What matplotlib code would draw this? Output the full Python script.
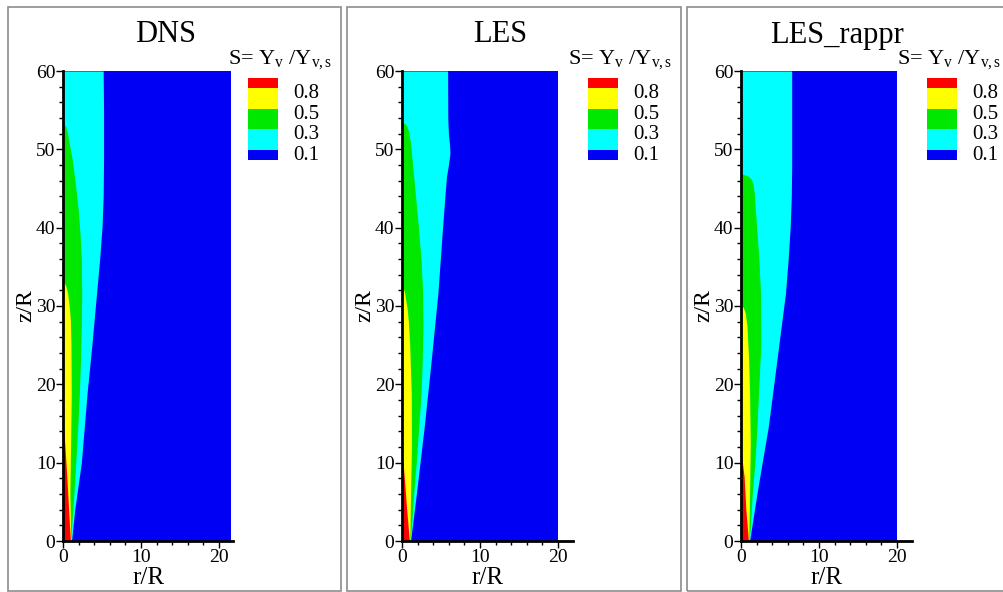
import matplotlib
matplotlib.use("Agg")
import matplotlib.pyplot as plt
import matplotlib.transforms as mtrans
from matplotlib.colors import ListedColormap, BoundaryNorm
from matplotlib.cm import ScalarMappable
from matplotlib.patches import Rectangle
from matplotlib.ticker import MultipleLocator

plt.rcParams["font.family"] = ["Liberation Serif", "DejaVu Serif"]
plt.rcParams["mathtext.fontset"] = "custom"
plt.rcParams["mathtext.rm"] = "Liberation Serif"
plt.rcParams["mathtext.it"] = "Liberation Serif:italic"

# saturation levels S = Yv / Yv,s
levels = [0.1, 0.3, 0.5, 0.8]
level_labels = ["0.1", "0.3", "0.5", "0.8"]
c_blue, c_cyan, c_green, c_yellow, c_red = "#0000f5", "#00ffff", "#00e800", "#ffff00", "#ff0000"

titles = ["DNS", "LES", "LES_rappr"]
r_domain = [21.6, 20.0, 20.0]      # radial extent of the computed field
x_max = [21.8, 21.9, 21.9]

# iso-lines r(z) for S = 0.1, 0.3, 0.5, 0.8  (z/R, r/R)
dns_z01 = [0, 4, 10, 19, 25, 31.6, 36, 40, 44, 48.6, 55, 60]
dns_r01 = [1.1, 1.5, 2.35, 3.1, 3.7, 4.3, 4.7, 5.0, 5.15, 5.2, 5.2, 5.15]
dns_z03 = [0, 1.8, 6.1, 10.3, 14.6, 18.9, 23.1, 27.4, 31.6, 35.9, 39, 42.3, 45.5,
           48.6, 50.8, 52.2, 52.9, 53.5]
dns_r03 = [1.0, 1.1, 1.4, 1.65, 1.9, 2.1, 2.25, 2.35, 2.4, 2.35, 2.2, 1.95, 1.6,
           1.2, 0.8, 0.55, 0.35, 0]
dns_z05 = [0, 6.1, 12.5, 18.9, 25.2, 28, 29.5, 31.6, 32.6, 33.2]
dns_r05 = [1.0, 0.88, 0.98, 1.06, 1.02, 0.95, 0.85, 0.6, 0.35, 0]
dns_z08 = [0, 4, 8, 12, 14, 15.2]
dns_r08 = [0.95, 0.72, 0.5, 0.25, 0.12, 0]

les_z01 = [0, 6.1, 14.6, 23.1, 31.6, 40, 44, 46.5, 48, 49.5, 50.5, 52, 54, 60]
les_r01 = [1.1, 1.85, 2.85, 3.75, 4.6, 5.2, 5.5, 5.7, 5.95, 6.15, 6.1, 5.95, 5.87, 5.85]
les_z03 = [0, 1.8, 6.1, 10.3, 14.6, 18.9, 23.1, 27.4, 31.6, 35.9, 40.1, 44.4, 47.5,
           50.8, 52.3, 52.9, 53.3, 53.4]
les_r03 = [1.0, 1.2, 1.5, 1.85, 2.15, 2.45, 2.6, 2.7, 2.65, 2.45, 2.1, 1.7, 1.4,
           1.1, 0.85, 0.65, 0.4, 0]
les_z05 = [0, 6.1, 12.5, 18.9, 25.2, 28, 29.5, 31.6, 32.2, 32.5]
les_r05 = [1.0, 1.1, 1.22, 1.19, 0.98, 0.82, 0.68, 0.35, 0.2, 0]
les_z08 = [0, 4, 8, 10, 10.9]
les_r08 = [0.95, 0.6, 0.3, 0.14, 0]

rap_z01 = [0, 6.1, 14.6, 23.1, 31.6, 36, 40, 44, 48, 60]
rap_r01 = [1.1, 2.05, 3.5, 4.6, 5.7, 6.05, 6.3, 6.45, 6.5, 6.5]
rap_z03 = [0, 1.8, 6.1, 10.3, 14.6, 18.9, 25.2, 31.6, 36, 40.1, 44.4, 45.6, 46.2,
           46.6, 46.8, 46.85]
rap_r03 = [1.0, 1.2, 1.45, 1.8, 2.05, 2.25, 2.55, 2.5, 2.3, 2.0, 1.7, 1.55, 1.3,
           0.9, 0.3, 0]
rap_z05 = [0, 6.1, 12.5, 18.9, 23.1, 27.4, 29.1, 29.8, 30.1]
rap_r05 = [1.0, 1.1, 1.19, 1.1, 0.98, 0.77, 0.55, 0.3, 0]
rap_z08 = [0, 4, 8.2, 10, 10.8]
rap_r08 = [0.95, 0.62, 0.4, 0.18, 0]

iso_lines = [
    [(dns_z01, dns_r01), (dns_z03, dns_r03), (dns_z05, dns_r05), (dns_z08, dns_r08)],
    [(les_z01, les_r01), (les_z03, les_r03), (les_z05, les_r05), (les_z08, les_r08)],
    [(rap_z01, rap_r01), (rap_z03, rap_r03), (rap_z05, rap_r05), (rap_z08, rap_r08)],
]

W, H = 1004, 592
fig = plt.figure(figsize=(W / 100, H / 100), dpi=100)


def fx(px):
    return px / W


def fy(py):
    return 1 - py / H


ax_left = [63, 402, 741]
frames = [(8, 341), (347, 681), (687, 1030)]
title_x = [166, 500, 837]
leg_x = [228, 568, 897]
cbar_x = [248, 588, 927]
unit_px = 7.8

cmap = ListedColormap([c_cyan, c_green, c_yellow])
cmap.set_under(c_blue)
cmap.set_over(c_red)
norm = BoundaryNorm(levels, cmap.N)

for i in range(3):
    # panel frame
    x0, x1 = frames[i]
    fig.add_artist(Rectangle((fx(x0), fy(591)), fx(x1 - x0), (591 - 7) / H,
                             transform=fig.transFigure, fill=False,
                             ec="#8c8c8c", lw=1.2))

    ax = fig.add_axes([fx(ax_left[i]), fy(541), fx(x_max[i] * unit_px), 470 / H])
    ax.fill_betweenx([0, 60], 0, r_domain[i], color=c_blue, lw=0)
    for (z, r), col in zip(iso_lines[i], [c_cyan, c_green, c_yellow, c_red]):
        ax.fill_betweenx(z, 0, r, color=col, lw=0)

    ax.set_xlim(0, x_max[i])
    ax.set_ylim(0, 60)
    ax.set_xticks([0, 10, 20])
    ax.set_yticks(range(0, 61, 10))
    ax.xaxis.set_minor_locator(MultipleLocator(2))
    ax.yaxis.set_minor_locator(MultipleLocator(2))
    for s in ["top", "right"]:
        ax.spines[s].set_visible(False)
    for s in ["left", "bottom"]:
        ax.spines[s].set_linewidth(2)
    ax.tick_params(which="major", direction="out", length=5, width=1,
                   labelsize=14, pad=0.5)
    ax.tick_params(which="minor", direction="out", length=3, width=1)
    ax.set_facecolor("white")

    ax.text(-37 / (x_max[i] * unit_px), 0.5, "z/R", transform=ax.transAxes,
            rotation=90, ha="center", va="center", fontsize=17)
    ax.text(0.5, -37 / 470, "r/R", transform=ax.transAxes,
            ha="center", va="center", fontsize=18)

    fig.text(fx(title_x[i]), fy(35), titles[i], ha="center", va="center",
             fontsize=22)
    fig.text(fx(leg_x[i]), fy(60), r"S= Y$_{\mathregular{v}}$ /Y$_{\mathregular{v,s}}$",
             ha="left", va="center", fontsize=16)

    # contour legend
    cax = fig.add_axes([fx(cbar_x[i]), fy(160), fx(30), 82 / H])
    cb = fig.colorbar(ScalarMappable(norm=norm, cmap=cmap), cax=cax,
                      extend="both", extendrect=True, extendfrac=10 / 62,
                      spacing="uniform", ticks=levels, drawedges=False)
    cb.outline.set_visible(False)
    cb.set_ticklabels(level_labels)
    cax.tick_params(length=0, labelsize=15, pad=11)
    shift = mtrans.ScaledTranslation(0, -3 / 100, fig.dpi_scale_trans)
    for lbl in cax.get_yticklabels():
        lbl.set_transform(lbl.get_transform() + shift)

fig.savefig("out.png", dpi=100)
